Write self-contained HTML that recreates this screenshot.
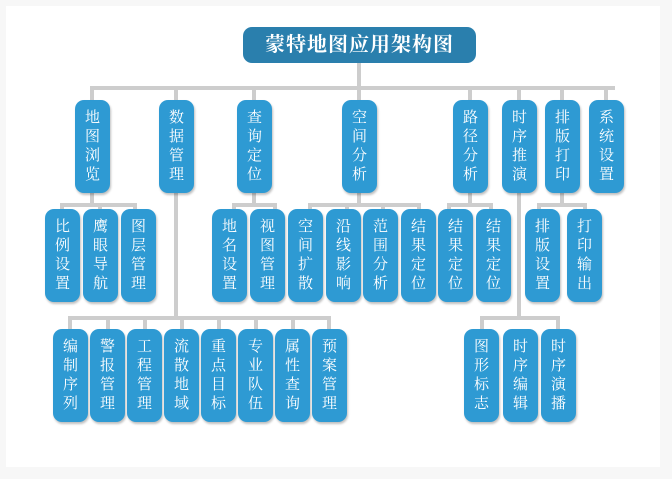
<!DOCTYPE html>
<html><head><meta charset="utf-8"><style>
body{margin:0;width:672px;height:479px;background:#f7f7f7;position:relative;overflow:hidden}
.panel{position:absolute;left:6px;top:6px;width:654px;height:461px;background:#fff}
.l{position:absolute;background:#cdcdcd}
.n{position:absolute;width:35px;height:93px;border-radius:9px;background:#2e9ad3;color:#fff;font:15px "Liberation Serif","Noto Serif CJK SC",serif;line-height:19px;display:flex;flex-direction:column;justify-content:center;align-items:center;text-align:center;box-shadow:1px 2px 2px rgba(0,0,0,.25)}
.t{position:absolute;left:243px;top:27px;width:233px;height:36px;border-radius:9px;background:#2a7fad;color:#fff;font:bold 20px "Liberation Serif","Noto Serif CJK SC",serif;line-height:36px;text-align:center;letter-spacing:1px}
</style></head><body>
<div class="panel"></div>
<!-- lines -->
<div class="l" style="left:357px;top:63px;width:4px;height:27px"></div>
<div class="l" style="left:90px;top:86px;width:525px;height:4px"></div>
<div class="l" style="left:90px;top:86px;width:4px;height:14px"></div>
<div class="l" style="left:174px;top:86px;width:4px;height:14px"></div>
<div class="l" style="left:252px;top:86px;width:4px;height:14px"></div>
<div class="l" style="left:357px;top:86px;width:4px;height:14px"></div>
<div class="l" style="left:468px;top:86px;width:4px;height:14px"></div>
<div class="l" style="left:517px;top:86px;width:4px;height:14px"></div>
<div class="l" style="left:560px;top:86px;width:4px;height:14px"></div>
<div class="l" style="left:604px;top:86px;width:4px;height:14px"></div>
<!-- level2 bars -->
<div class="l" style="left:90px;top:192px;width:4px;height:13px"></div>
<div class="l" style="left:60px;top:203px;width:77px;height:4px"></div>
<div class="l" style="left:60px;top:203px;width:4px;height:6px"></div>
<div class="l" style="left:98px;top:203px;width:4px;height:6px"></div>
<div class="l" style="left:133px;top:203px;width:4px;height:6px"></div>
<div class="l" style="left:252px;top:192px;width:4px;height:13px"></div>
<div class="l" style="left:232px;top:203px;width:45px;height:4px"></div>
<div class="l" style="left:232px;top:203px;width:4px;height:6px"></div>
<div class="l" style="left:273px;top:203px;width:4px;height:6px"></div>
<div class="l" style="left:357px;top:192px;width:4px;height:13px"></div>
<div class="l" style="left:308px;top:203px;width:113px;height:4px"></div>
<div class="l" style="left:308px;top:203px;width:4px;height:6px"></div>
<div class="l" style="left:345px;top:203px;width:4px;height:6px"></div>
<div class="l" style="left:381px;top:203px;width:4px;height:6px"></div>
<div class="l" style="left:417px;top:203px;width:4px;height:6px"></div>
<div class="l" style="left:468px;top:192px;width:4px;height:13px"></div>
<div class="l" style="left:447px;top:203px;width:46px;height:4px"></div>
<div class="l" style="left:447px;top:203px;width:4px;height:6px"></div>
<div class="l" style="left:489px;top:203px;width:4px;height:6px"></div>
<div class="l" style="left:560px;top:192px;width:4px;height:13px"></div>
<div class="l" style="left:537px;top:203px;width:50px;height:4px"></div>
<div class="l" style="left:537px;top:203px;width:4px;height:6px"></div>
<div class="l" style="left:583px;top:203px;width:4px;height:6px"></div>
<!-- level3 -->
<div class="l" style="left:174px;top:192px;width:4px;height:128px"></div>
<div class="l" style="left:68px;top:316px;width:263px;height:4px"></div>
<div class="l" style="left:68px;top:316px;width:4px;height:14px"></div>
<div class="l" style="left:106px;top:316px;width:4px;height:14px"></div>
<div class="l" style="left:143px;top:316px;width:4px;height:14px"></div>
<div class="l" style="left:180px;top:316px;width:4px;height:14px"></div>
<div class="l" style="left:217px;top:316px;width:4px;height:14px"></div>
<div class="l" style="left:254px;top:316px;width:4px;height:14px"></div>
<div class="l" style="left:291px;top:316px;width:4px;height:14px"></div>
<div class="l" style="left:327px;top:316px;width:4px;height:14px"></div>
<div class="l" style="left:517px;top:192px;width:4px;height:128px"></div>
<div class="l" style="left:480px;top:316px;width:80px;height:4px"></div>
<div class="l" style="left:480px;top:316px;width:4px;height:14px"></div>
<div class="l" style="left:556px;top:316px;width:4px;height:14px"></div>

<div class="t">蒙特地图应用架构图</div>
<!-- level1 -->
<div class="n" style="left:75px;top:100px">地<br>图<br>浏<br>览</div>
<div class="n" style="left:159px;top:100px">数<br>据<br>管<br>理</div>
<div class="n" style="left:237px;top:100px">查<br>询<br>定<br>位</div>
<div class="n" style="left:342px;top:100px">空<br>间<br>分<br>析</div>
<div class="n" style="left:453px;top:100px">路<br>径<br>分<br>析</div>
<div class="n" style="left:502px;top:100px">时<br>序<br>推<br>演</div>
<div class="n" style="left:545px;top:100px">排<br>版<br>打<br>印</div>
<div class="n" style="left:589px;top:100px">系<br>统<br>设<br>置</div>
<!-- level2 -->
<div class="n" style="left:45px;top:209px">比<br>例<br>设<br>置</div>
<div class="n" style="left:83px;top:209px">鹰<br>眼<br>导<br>航</div>
<div class="n" style="left:121px;top:209px">图<br>层<br>管<br>理</div>
<div class="n" style="left:212px;top:209px">地<br>名<br>设<br>置</div>
<div class="n" style="left:250px;top:209px">视<br>图<br>管<br>理</div>
<div class="n" style="left:288px;top:209px">空<br>间<br>扩<br>散</div>
<div class="n" style="left:326px;top:209px">沿<br>线<br>影<br>响</div>
<div class="n" style="left:363px;top:209px">范<br>围<br>分<br>析</div>
<div class="n" style="left:401px;top:209px">结<br>果<br>定<br>位</div>
<div class="n" style="left:438px;top:209px">结<br>果<br>定<br>位</div>
<div class="n" style="left:476px;top:209px">结<br>果<br>定<br>位</div>
<div class="n" style="left:525px;top:209px">排<br>版<br>设<br>置</div>
<div class="n" style="left:567px;top:209px">打<br>印<br>输<br>出</div>
<!-- level3 -->
<div class="n" style="left:53px;top:329px">编<br>制<br>序<br>列</div>
<div class="n" style="left:90px;top:329px">警<br>报<br>管<br>理</div>
<div class="n" style="left:127px;top:329px">工<br>程<br>管<br>理</div>
<div class="n" style="left:164px;top:329px">流<br>散<br>地<br>域</div>
<div class="n" style="left:201px;top:329px">重<br>点<br>目<br>标</div>
<div class="n" style="left:238px;top:329px">专<br>业<br>队<br>伍</div>
<div class="n" style="left:275px;top:329px">属<br>性<br>查<br>询</div>
<div class="n" style="left:312px;top:329px">预<br>案<br>管<br>理</div>
<div class="n" style="left:464px;top:329px">图<br>形<br>标<br>志</div>
<div class="n" style="left:503px;top:329px">时<br>序<br>编<br>辑</div>
<div class="n" style="left:541px;top:329px">时<br>序<br>演<br>播</div>
</body></html>
